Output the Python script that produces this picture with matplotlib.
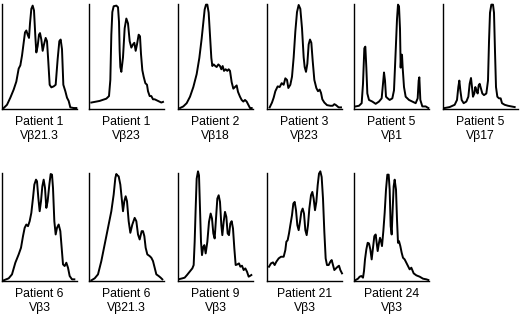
import matplotlib
matplotlib.use("Agg")
import matplotlib.pyplot as plt

plt.rcParams['font.family'] = ['Liberation Sans', 'DejaVu Sans']

patients = ["Patient 1", "Patient 1", "Patient 2", "Patient 3", "Patient 5", "Patient 5",
            "Patient 6", "Patient 6", "Patient 9", "Patient 21", "Patient 24"]
vbeta = ["Vβ21.3", "Vβ23", "Vβ18", "Vβ23", "Vβ1", "Vβ17",
         "Vβ3", "Vβ21.3", "Vβ3", "Vβ3", "Vβ3"]

# traced profiles: fragment position (a.u.) and intensity (a.u.)
p1_x = [5, 15, 25, 35, 43, 50, 55, 60, 65, 69, 73, 77, 81, 84, 88, 92, 96, 100, 103, 107, 111, 114, 118, 122, 126, 131, 135, 139, 143, 148, 155, 161, 167, 172, 176, 180, 184, 190, 195, 200, 205, 215, 223]
p1_y = [3, 13, 35, 60, 85, 125, 135, 165, 205, 237, 243, 230, 220, 265, 310, 320, 305, 225, 175, 195, 230, 235, 215, 180, 200, 220, 210, 145, 75, 67, 70, 75, 155, 210, 215, 185, 75, 55, 35, 25, 5, 3, 3]

p2_x = [7, 32, 52, 60, 64, 67, 70, 74, 82, 87, 90, 92, 94, 97, 102, 107, 112, 117, 122, 127, 132, 136, 140, 144, 149, 153, 156, 160, 164, 169, 174, 177, 182, 187, 192, 197, 207, 217, 222]
p2_y = [20, 25, 32, 40, 90, 230, 300, 318, 320, 315, 270, 180, 130, 115, 160, 250, 280, 265, 210, 190, 200, 205, 180, 200, 230, 225, 170, 120, 100, 80, 75, 55, 40, 40, 30, 30, 25, 20, 22]

p3_x = [6, 16, 26, 36, 46, 56, 64, 71, 76, 80, 84, 88, 92, 96, 100, 103, 107, 112, 116, 121, 126, 130, 134, 138, 143, 148, 152, 156, 161, 166, 171, 176, 180, 186, 191, 196, 201, 206, 211, 216, 221]
p3_y = [3, 8, 18, 38, 68, 108, 158, 218, 268, 308, 323, 323, 298, 228, 158, 133, 138, 133, 130, 138, 133, 123, 133, 118, 123, 118, 123, 118, 83, 63, 68, 73, 53, 38, 28, 23, 28, 23, 13, 3, 3]

p4_x = [8, 15, 20, 25, 32, 38, 44, 50, 55, 60, 64, 70, 75, 80, 85, 90, 95, 100, 105, 110, 113, 117, 121, 125, 129, 133, 137, 142, 148, 153, 158, 162, 166, 172, 180, 190, 197, 202, 207, 215, 222]
p4_y = [5, 20, 35, 55, 70, 68, 80, 75, 95, 90, 65, 75, 100, 160, 240, 300, 322, 310, 250, 160, 130, 115, 140, 200, 215, 205, 150, 90, 65, 55, 60, 50, 30, 20, 12, 10, 10, 15, 12, 5, 5]

p5_x = [5, 15, 23, 27, 31, 34, 37, 40, 45, 55, 65, 75, 83, 87, 90, 93, 96, 101, 107, 115, 120, 125, 129, 132, 135, 138, 140, 142, 144, 146, 150, 155, 165, 175, 185, 191, 194, 196, 199, 205, 215, 223]
p5_y = [8, 10, 18, 78, 188, 193, 128, 48, 28, 23, 16, 23, 33, 78, 113, 88, 38, 33, 28, 33, 58, 178, 278, 323, 318, 248, 128, 168, 168, 128, 68, 38, 28, 23, 18, 33, 88, 98, 28, 8, 8, 3]

p6_x = [5, 20, 35, 42, 46, 49, 52, 56, 62, 70, 76, 80, 84, 87, 90, 94, 97, 100, 104, 107, 110, 114, 118, 123, 130, 135, 138, 141, 145, 150, 153, 156, 159, 163, 168, 173, 177, 185, 195, 205, 215]
p6_y = [3, 6, 13, 28, 68, 88, 58, 28, 18, 23, 38, 78, 96, 68, 38, 48, 68, 58, 48, 73, 78, 63, 48, 43, 48, 88, 208, 298, 323, 323, 298, 178, 68, 38, 33, 33, 18, 13, 10, 8, 6]

p7_x = [5, 20, 30, 40, 50, 57, 63, 68, 73, 78, 83, 88, 93, 97, 102, 105, 109, 113, 117, 121, 125, 129, 133, 137, 142, 146, 150, 153, 157, 161, 165, 170, 175, 179, 183, 188, 193, 198, 203, 210, 217]
p7_y = [2, 8, 20, 55, 80, 100, 135, 160, 170, 165, 180, 205, 250, 290, 305, 300, 250, 210, 240, 285, 305, 280, 220, 240, 290, 322, 320, 280, 180, 140, 160, 170, 150, 100, 50, 45, 55, 40, 15, 5, 5]

p8_x = [7, 17, 27, 37, 47, 57, 67, 74, 79, 82, 85, 89, 94, 98, 102, 106, 110, 114, 119, 124, 130, 137, 142, 147, 152, 158, 162, 166, 170, 175, 182, 187, 192, 197, 202, 209, 215, 220]
p8_y = [2, 8, 20, 60, 110, 160, 210, 260, 310, 322, 318, 315, 290, 250, 210, 240, 255, 240, 180, 145, 170, 190, 180, 140, 125, 150, 150, 135, 100, 80, 75, 70, 60, 40, 20, 15, 10, 5]

p9_x = [5, 13, 20, 27, 35, 43, 47, 50, 53, 56, 60, 63, 66, 69, 72, 76, 79, 83, 88, 93, 98, 102, 106, 110, 114, 118, 122, 126, 130, 133, 137, 141, 145, 149, 153, 157, 161, 165, 169, 173, 178, 183, 187, 192, 197, 202, 207, 212, 217, 220]
p9_y = [6, 8, 10, 18, 28, 38, 48, 118, 218, 308, 330, 318, 218, 118, 78, 103, 108, 83, 118, 178, 203, 188, 143, 128, 188, 248, 258, 238, 168, 138, 178, 208, 193, 143, 138, 173, 180, 158, 98, 48, 50, 53, 43, 46, 33, 38, 28, 13, 16, 18]

p10_x = [6, 12, 18, 23, 28, 35, 42, 50, 55, 58, 62, 66, 70, 75, 79, 83, 87, 91, 95, 99, 103, 107, 111, 115, 119, 123, 127, 132, 136, 140, 144, 148, 152, 156, 160, 164, 168, 172, 176, 180, 185, 190, 194, 198, 202, 207, 212, 216, 220, 225]
p10_y = [43, 53, 56, 48, 58, 68, 73, 73, 93, 118, 123, 143, 168, 198, 233, 238, 213, 168, 153, 178, 208, 218, 203, 153, 138, 168, 218, 258, 268, 248, 213, 238, 288, 323, 330, 313, 248, 148, 68, 48, 48, 58, 63, 48, 33, 38, 43, 46, 33, 23]

p11_x = [5, 12, 17, 22, 27, 30, 33, 37, 41, 45, 49, 53, 57, 61, 65, 68, 71, 75, 78, 81, 84, 88, 92, 96, 100, 104, 107, 110, 113, 116, 119, 122, 126, 129, 132, 135, 139, 143, 147, 152, 157, 162, 167, 172, 179, 187, 197, 207, 217, 223]
p11_y = [3, 7, 13, 15, 10, 30, 65, 95, 115, 113, 95, 65, 100, 135, 140, 115, 90, 115, 130, 120, 105, 150, 205, 275, 320, 320, 275, 165, 140, 215, 285, 305, 275, 185, 115, 120, 105, 85, 70, 65, 55, 45, 35, 40, 23, 17, 13, 7, 5, 3]

profiles_x = [p1_x, p2_x, p3_x, p4_x, p5_x, p6_x, p7_x, p8_x, p9_x, p10_x, p11_x]
profiles_y = [p1_y, p2_y, p3_y, p4_y, p5_y, p6_y, p7_y, p8_y, p9_y, p10_y, p11_y]

W, H = 520, 315
fig = plt.figure(figsize=(W / 100, H / 100), dpi=100)

# panel frames in pixels: (left, top, width, height)
lefts = [2, 89, 178, 267, 354, 443]
frames = []
for i in range(6):
    frames.append((lefts[i], 4, 75, 105))
for i in range(5):
    frames.append((lefts[i], 173, 75, 108))

for i in range(11):
    l, t, w, h = frames[i]
    ax = fig.add_axes([l / W, 1 - (t + h) / H, w / W, h / H])
    ax.plot(profiles_x[i], profiles_y[i], color='black', lw=1.4,
            solid_joinstyle='round', clip_on=False)
    ax.set_xlim(0, 225)
    ax.set_ylim(0, 325)
    for s in ['top', 'right']:
        ax.spines[s].set_visible(False)
    for s in ['left', 'bottom']:
        ax.spines[s].set_linewidth(1.0)
    ax.set_xticks([])
    ax.set_yticks([])
    ax.patch.set_visible(False)
    ax.text(0.5, -13 / h, patients[i], transform=ax.transAxes,
            ha='center', va='center', fontsize=8.8)
    ax.text(0.5, -26.5 / h, vbeta[i], transform=ax.transAxes,
            ha='center', va='center', fontsize=8.8)

fig.savefig("out.png", dpi=100)
